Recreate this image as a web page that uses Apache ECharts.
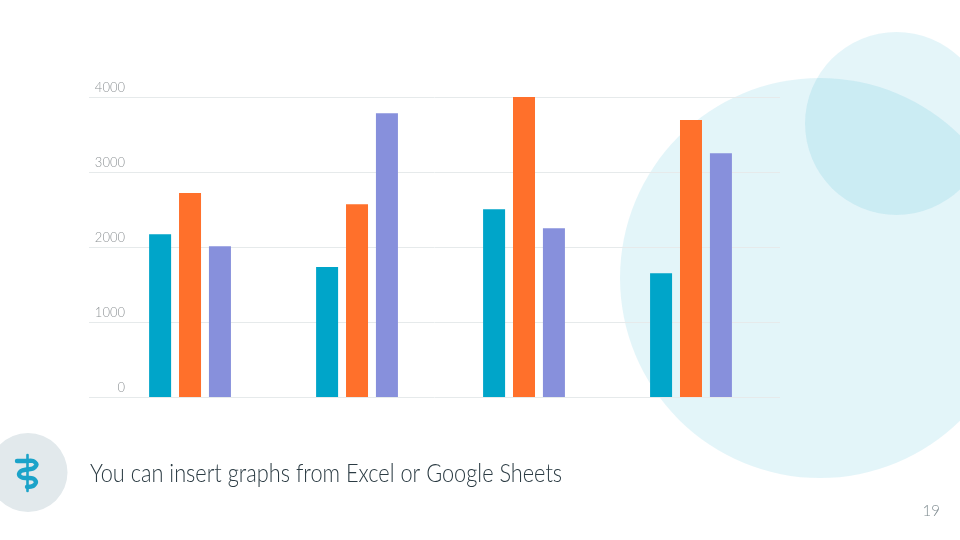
<!DOCTYPE html>
<html>
<head>
<meta charset="utf-8">
<style>
html,body{margin:0;padding:0;background:#fff;}
#chart{width:960px;height:540px;}
</style>
<script src="https://cdn.jsdelivr.net/npm/echarts@6/dist/echarts.min.js"></script>
</head>
<body>
<div id="chart"></div>
<script>
// no category labels in the picture, groups are just positions 1..4
var groups = [1, 2, 3, 4];
var series1 = [2170, 1735, 2505, 1650];
var series2 = [2720, 2570, 4000, 3695];
var series3 = [2010, 3785, 2250, 3250];
var yTicks = [0, 1000, 2000, 3000, 4000];
var heading = 'You can insert graphs from Excel or Google Sheets';
var pageNumber = '19';

function toPoints(values){
	return values.map(function(v, i){ return [groups[i], v]; });
}
function barSeries(name, values, color){
	return {
		name: name,
		type: 'bar',
		barWidth: 22,
		barGap: '36%',
		itemStyle: {color: color},
		data: toPoints(values)
	};
}

var myChart = echarts.init(document.getElementById('chart'));

var option = {
	animation: false,
	grid: {left: 89, right: 180, top: 97, bottom: 143},
	xAxis: {
		type: 'value',
		min: 0.395,
		max: 4.533,
		axisLine: {show: false},
		axisTick: {show: false},
		axisLabel: {show: false},
		splitLine: {show: false}
	},
	yAxis: {
		type: 'value',
		min: yTicks[0],
		max: yTicks[yTicks.length - 1],
		interval: 1000,
		axisLine: {show: false},
		axisTick: {show: false},
		axisLabel: {
			inside: true,
			align: 'right',
			verticalAlign: 'bottom',
			margin: 36,
			padding: [0, 0, 3, 0],
			color: '#8f9497',
			fontFamily: 'Lato',
			fontWeight: 300,
			fontSize: 13,
			formatter: function(v){ return String(v); }
		},
		splitLine: {lineStyle: {color: '#e6eaeb', width: 1}}
	},
	graphic: [
		{type: 'circle', z: -10, shape: {cx: 820, cy: 278, r: 200}, style: {fill: 'rgba(0,165,203,0.11)'}},
		{type: 'circle', z: -10, shape: {cx: 896.5, cy: 123.5, r: 91.5}, style: {fill: 'rgba(0,165,203,0.105)'}},
		{type: 'circle', z: -10, shape: {cx: 28, cy: 472.5, r: 39.5}, style: {fill: '#e2e9ec'}},
		//蛇杖图标
		{type: 'line', z: 5, shape: {x1: 27.5, y1: 455, x2: 27.5, y2: 491}, style: {stroke: '#1ba3c9', lineWidth: 2.6, lineCap: 'round'}},
		{type: 'polyline', z: 5, shape: {points: [[17, 461], [26, 461], [33, 461], [36.5, 464.5], [33, 468.5], [27, 469.5], [21, 471], [19, 474.5], [22, 477.5], [27, 478], [33, 478.5], [36, 482], [33, 486], [27, 487]], smooth: 0.3}, style: {fill: 'none', stroke: '#1ba3c9', lineWidth: 4.4, lineCap: 'round'}},
		{
			type: 'text', z: 5, x: 90, y: 474, scaleX: 0.87,
			style: {text: heading, fill: '#2b3b43', font: '300 25px Lato', textVerticalAlign: 'middle'}
		},
		{
			type: 'text', z: 5, x: 940, y: 511,
			style: {text: pageNumber, fill: '#7f8b90', font: '300 15px Lato', textAlign: 'right', textVerticalAlign: 'middle'}
		}
	],
	series: [
		barSeries('a', series1, '#00a5c9'),
		barSeries('b', series2, '#ff702b'),
		barSeries('c', series3, '#8790dc')
	]
};
myChart.setOption(option);
</script>
</body>
</html>
